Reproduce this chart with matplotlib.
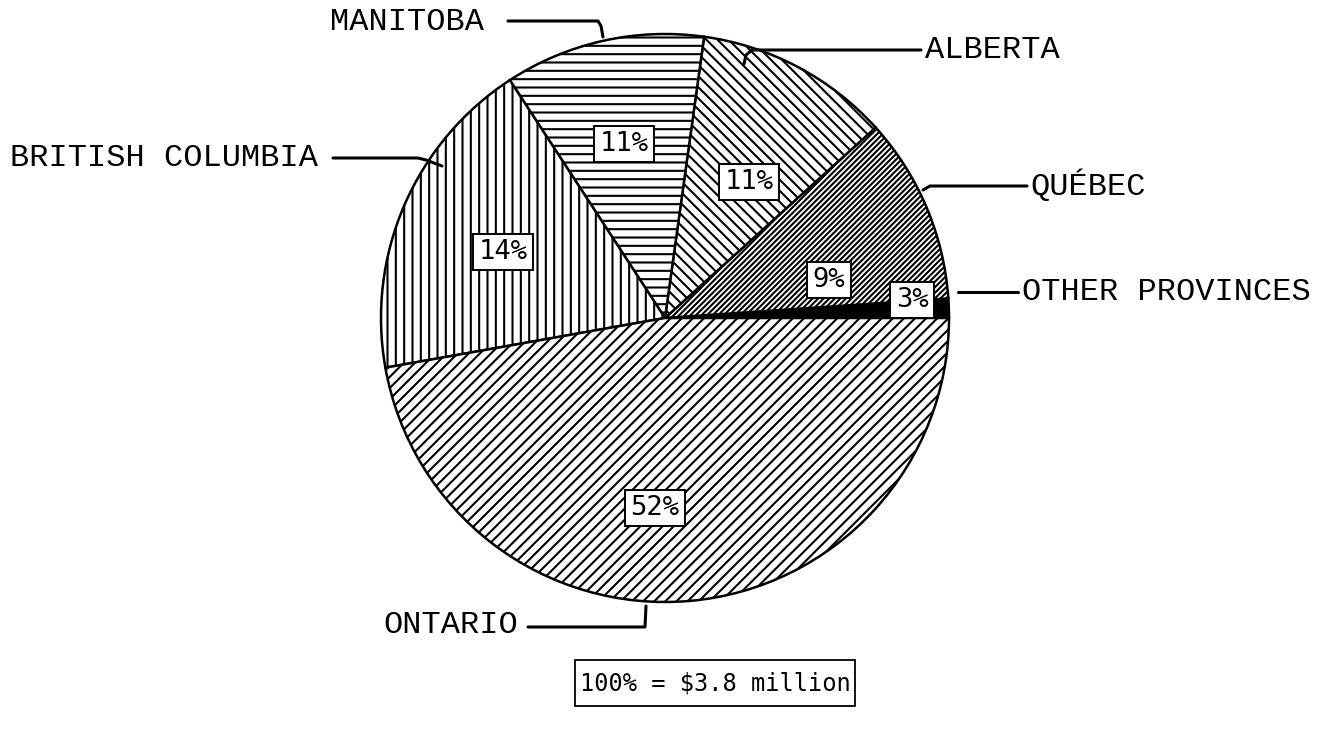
import matplotlib
matplotlib.use("Agg")
import matplotlib.pyplot as plt
from matplotlib.patches import Rectangle

# ---- data -------------------------------------------------------------
provinces = ["OTHER PROVINCES", "QUÉBEC", "ALBERTA", "MANITOBA",
             "BRITISH COLUMBIA", "ONTARIO"]
label_pct = [3, 9, 11, 11, 14, 52]                 # printed percentages
# wedge sizes as actually drawn in the picture (share of the full circle, %)
drawn_share = [1.1, 10.6, 11.1, 11.4, 18.6, 47.2]
total_text = "100% = $3.8 million"

# ---- styles -----------------------------------------------------------
hatches = [None, "//////", "\\\\\\", "--", "||", "///"]
fills = ["black", "white", "white", "white", "white", "white"]

W, H = 1332, 744
plt.rcParams["hatch.linewidth"] = 1.5

fig = plt.figure(figsize=(W / 100, H / 100), dpi=100)
ax = fig.add_axes([0, 0, 1, 1])

def Y(py):
    return H - py

cx, cy, r = 665, 318, 284
wedges, _ = ax.pie(drawn_share, startangle=0, counterclock=True,
                   center=(cx, Y(cy)), radius=r, colors=fills,
                   wedgeprops=dict(edgecolor="black", linewidth=1.8))
for w, h in zip(wedges, hatches):
    if h:
        w.set_hatch(h)

ax.set_xlim(0, W)
ax.set_ylim(0, H)
ax.set_aspect("equal")
ax.axis("off")

# percentage boxes (pixel positions of box centres)
pct_pos = [(912, 300), (829, 280), (749, 182), (624, 144), (503, 252), (655, 508)]
for p, (px, py) in zip(label_pct, pct_pos):
    ax.text(px, Y(py), f"{p}%", ha="center", va="center",
            fontsize=19.5, family="DejaVu Sans Mono",
            bbox=dict(boxstyle="square,pad=0.2", fc="white", ec="black", lw=1.4))

# province labels with leader lines
lab_font = dict(fontsize=23, family="Liberation Mono", color="black")
labels = {
    "MANITOBA": ((330, 22), [(508, 21), (598, 21), (601, 26), (603, 37)]),
    "ALBERTA": ((925, 50), [(921, 50), (752, 50), (746, 55), (744, 64)]),
    "QUÉBEC": ((1030, 186), [(1027, 186), (930, 186), (923, 190)]),
    "OTHER PROVINCES": ((1022, 292), [(958, 292), (1018, 292)]),
    "BRITISH COLUMBIA": ((10, 158), [(333, 158), (418, 158), (426, 160), (442, 166)]),
    "ONTARIO": ((383, 625), [(528, 627), (645, 627), (646, 606)]),
}
for name in provinces:
    (tx, ty), pts = labels[name]
    ax.text(tx, Y(ty), name, ha="left", va="center", **lab_font)
    xs = [p[0] for p in pts]
    ys = [Y(p[1]) for p in pts]
    ax.plot(xs, ys, color="black", lw=2.2, solid_capstyle="round")

# total box
ax.add_patch(Rectangle((575, Y(706)), 280, 46, fill=False, ec="black", lw=1.3))
ax.text(580, Y(683), total_text, ha="left", va="center",
        fontsize=17, family="DejaVu Sans Mono")

fig.savefig("out.png", dpi=100)
